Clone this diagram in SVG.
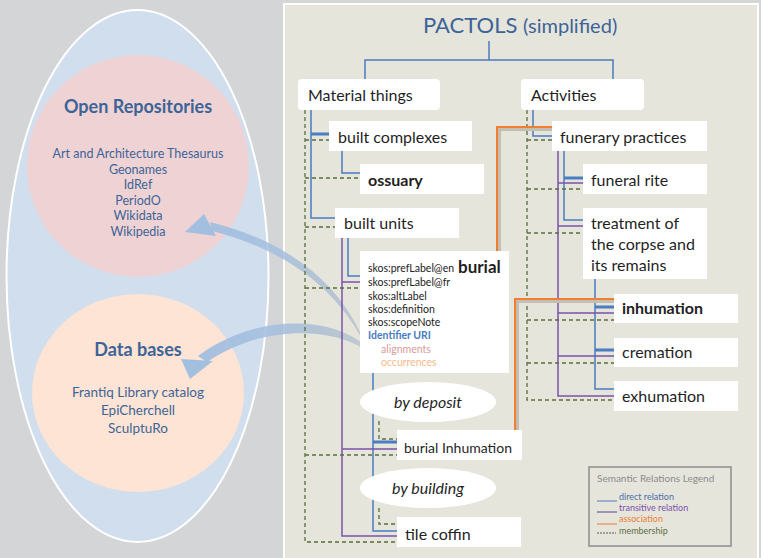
<svg xmlns="http://www.w3.org/2000/svg" width="761" height="558" viewBox="0 0 761 558">
<defs>
<style>
.t{font-family:Lato,"Open Sans","Liberation Sans",sans-serif;}
.node{font-size:16px;fill:#1f1f1f;}
.bold{font-weight:bold;}
.box{fill:#ffffff;}
.blue{fill:none;stroke:#4a7cc0;stroke-width:1.5;}
.thick{fill:none;stroke:#4a7cc0;stroke-width:3;}
.purple{fill:none;stroke:#7b52ab;stroke-width:1.5;}
.dash{fill:none;stroke:#5b6e3d;stroke-width:1.3;stroke-dasharray:4 3;}
.orange{fill:none;stroke:#ef7d34;stroke-width:2;}
.shadow{fill:none;stroke:#c2bfb2;stroke-width:3;}
.repo{fill:#3d6497;text-anchor:middle;}
.skos{font-size:10.5px;fill:#222;}
.arrow{fill:url(#fade);}
.arrowhead{fill:#a3bfdf;}
.leg{font-size:9px;}
</style>
<linearGradient id="fade" gradientUnits="userSpaceOnUse" x1="190" y1="0" x2="362" y2="0">
<stop offset="0" stop-color="#a3bfdf" stop-opacity="1"/>
<stop offset="0.5" stop-color="#a3bfdf" stop-opacity="0.85"/>
<stop offset="1" stop-color="#8fa6c2" stop-opacity="0.45"/>
</linearGradient>
</defs>
<rect x="0" y="0" width="761" height="558" fill="#d4d5d7"/>
<!-- left side -->
<g id="outer-ellipse">
<ellipse cx="137.5" cy="276" rx="131" ry="266" fill="#d0deed" stroke="#ffffff" stroke-width="2"/>
</g>
<g id="open-repositories">
<circle cx="138" cy="166" r="111" fill="#efd3d4"/>
<text class="t repo bold" x="138" y="113" font-size="18">Open Repositories</text>
<text class="t repo" font-size="12.5"><tspan x="138" y="158">Art and Architecture Thesaurus</tspan><tspan x="138" y="174">Geonames</tspan><tspan x="138" y="189">IdRef</tspan><tspan x="138" y="205">PeriodO</tspan><tspan x="138" y="220">Wikidata</tspan><tspan x="138" y="236">Wikipedia</tspan></text>
</g>
<g id="data-bases">
<ellipse cx="138" cy="393" rx="106" ry="99" fill="#fde4d4"/>
<text class="t repo bold" x="138" y="356" font-size="18">Data bases</text>
<text class="t repo" font-size="13.5"><tspan x="138" y="397">Frantiq Library catalog</tspan><tspan x="138" y="415">EpiCherchell</tspan><tspan x="138" y="433">SculptuRo</tspan></text>
</g>
<!-- right panel -->
<rect x="284" y="4" width="474" height="560" fill="#e6e5dc" stroke="#ffffff" stroke-width="2"/>
<g id="title">
<text class="t" x="423" y="33" font-size="22" fill="#3d6497">PACTOLS <tspan font-size="20">(simplified)</tspan></text>
</g>
<!-- arrows -->
<g id="arrows">
<path class="arrow" d="M362 336 Q322 250 210 222 L212 231 Q318 258 362 339 Z"/>
<path class="arrowhead" d="M185 232 L204 214 L216 236 Z"/>
<path class="arrow" d="M362 343 C330 318 258 312 198 356 L207 362 C260 326 328 327 362 348 Z"/>
<path class="arrowhead" d="M190 379 L181 359 L213 361 Z"/>
</g>
<g id="connectors">
<path class="blue" d="M489 41 V60 M365 79 V60 H613 V79"/>
<path class="blue" d="M311 110 V218 H335"/>
<path class="thick" d="M311 134 H329"/>
<path class="blue" d="M342 150 V173 H360"/>
<path class="blue" d="M348 238 V276 H360"/>
<path class="blue" d="M373 373 V531 H397"/>
<path class="thick" d="M373 442 H397"/>
<path class="blue" d="M533 110 V136 H552"/>
<path class="blue" d="M564 150 V220 H583"/>
<path class="thick" d="M564 178 H583"/>
<path class="blue" d="M595 279 V389 H614"/>
<path class="thick" d="M595 307 H614 M595 350 H614"/>
<path class="purple" d="M342 238 V536 H397 M342 282 H360 M342 449 H397"/>
<path class="purple" d="M558 150 V396 H614 M558 183 H583 M558 226 H583 M558 313 H614 M558 356 H614"/>
<path class="dash" d="M305 110 V542 H397 M305 140 H329 M305 178 H360 M305 227 H335 M305 288 H360 M305 455 H397"/>
<path class="dash" d="M379 421 V439 H397 M379 508 V524 H397"/>
<path class="dash" d="M527 110 V400 H614 M527 140 H552 M527 189 H583 M527 233 H583 M527 320 H614 M527 363 H614"/>
<path class="shadow" d="M499.5 251 V129.5 H552"/>
<path class="orange" d="M497 251 V127 H552"/>
<path class="shadow" d="M517.5 430 V301.5 H616"/>
<path class="orange" d="M515 430 V299 H616"/>
</g>
<!-- nodes -->
<g id="material-things"><rect class="box" x="298" y="79" width="142" height="31" rx="4"/><text class="t node" x="308" y="101">Material things</text></g>
<g id="activities"><rect class="box" x="521" y="79" width="123" height="31" rx="4"/><text class="t node" x="531" y="101">Activities</text></g>
<g id="built-complexes"><rect class="box" x="329" y="121" width="143" height="30"/><text class="t node" x="338" y="143">built complexes</text></g>
<g id="ossuary"><rect class="box" x="360" y="164" width="124" height="30"/><text class="t node bold" x="368" y="186">ossuary</text></g>
<g id="built-units"><rect class="box" x="335" y="208" width="124" height="30"/><text class="t node" x="344" y="229">built units</text></g>
<g id="burial"><rect class="box" x="360" y="251" width="149" height="122"/>
<text class="t skos" x="368" y="272">skos:prefLabel@en</text>
<text class="t bold" x="458" y="273" font-size="17" fill="#1f1f1f">burial</text>
<text class="t skos" x="368" y="286">skos:prefLabel@fr</text>
<text class="t skos" x="368" y="300">skos:altLabel</text>
<text class="t skos" x="368" y="313">skos:definition</text>
<text class="t skos" x="368" y="326">skos:scopeNote</text>
<text class="t skos bold" x="368" y="339" style="fill:#4a7cc0">Identifier URI</text>
<text class="t skos" x="381" y="353" style="fill:#d99a9a">alignments</text>
<text class="t skos" x="381" y="366" style="fill:#f6b98a">occurrences</text>
</g>
<g id="by-deposit"><ellipse cx="428" cy="402" rx="68" ry="20" fill="#ffffff"/><text class="t" x="428" y="408" font-size="16" font-style="italic" text-anchor="middle" fill="#1f1f1f">by deposit</text></g>
<g id="burial-inhumation"><rect class="box" x="397" y="430" width="125" height="30"/><text class="t" x="404" y="453" font-size="14" fill="#1f1f1f">burial Inhumation</text></g>
<g id="by-building"><ellipse cx="428" cy="488" rx="68" ry="20" fill="#ffffff"/><text class="t" x="428" y="494" font-size="16" font-style="italic" text-anchor="middle" fill="#1f1f1f">by building</text></g>
<g id="tile-coffin"><rect class="box" x="397" y="517" width="124" height="30"/><text class="t node" x="405" y="540">tile coffin</text></g>
<g id="funerary-practices"><rect class="box" x="552" y="121" width="155" height="30"/><text class="t node" x="560" y="143">funerary practices</text></g>
<g id="funeral-rite"><rect class="box" x="583" y="164" width="124" height="30"/><text class="t node" x="591" y="186">funeral rite</text></g>
<g id="treatment"><rect class="box" x="583" y="208" width="124" height="71"/><text class="t node"><tspan x="591" y="229">treatment of</tspan><tspan x="591" y="250">the corpse and</tspan><tspan x="591" y="271">its remains</tspan></text></g>
<g id="inhumation"><rect class="box" x="614" y="294" width="124" height="29"/><text class="t node bold" x="622" y="314">inhumation</text></g>
<g id="cremation"><rect class="box" x="614" y="338" width="124" height="29"/><text class="t node" x="622" y="358">cremation</text></g>
<g id="exhumation"><rect class="box" x="614" y="381" width="124" height="30"/><text class="t node" x="622" y="402">exhumation</text></g>
<g id="legend">
<rect x="589" y="467" width="142" height="79" fill="none" stroke="#8c8c8c" stroke-width="1.5"/>
<text class="t" x="597" y="482" font-size="10" fill="#8c8c8c">Semantic Relations Legend</text>
<line x1="597" y1="501" x2="617" y2="501" stroke="#4a7cc0" stroke-width="1"/>
<text class="t leg" x="619" y="500" fill="#4a6fa8">direct relation</text>
<line x1="597" y1="512" x2="617" y2="512" stroke="#5a3f8a" stroke-width="1"/>
<text class="t leg" x="619" y="511" fill="#7b52ab">transitive relation</text>
<line x1="597" y1="524" x2="617" y2="524" stroke="#ef7d34" stroke-width="1"/>
<text class="t leg" x="619" y="522" fill="#ef7d34">association</text>
<line x1="597" y1="533" x2="616" y2="533" stroke="#333" stroke-width="0.8" stroke-dasharray="2 1"/>
<text class="t leg" x="619" y="534" fill="#5b6e3d">membership</text>
</g>
</svg>
